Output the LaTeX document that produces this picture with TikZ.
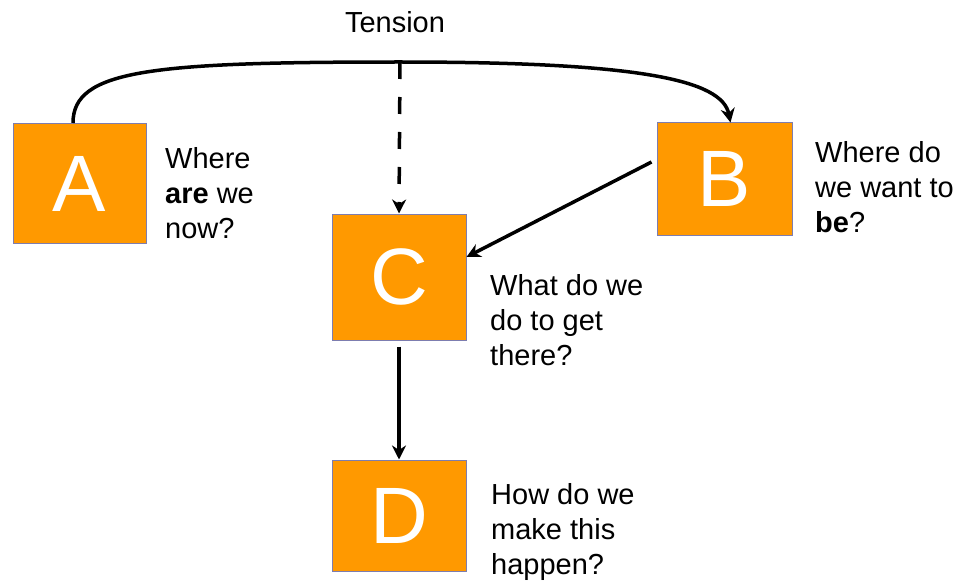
\documentclass[tikz,border=0pt]{standalone}
\usepackage{fontspec}
\setmainfont{Liberation Sans}
\usetikzlibrary{arrows.meta}
\definecolor{boxfill}{RGB}{255,153,0}
\definecolor{boxline}{RGB}{125,125,175}
\begin{document}
\begin{tikzpicture}[x=1pt,y=-1pt,
  letterbox/.style={draw=boxline,line width=1pt,fill=boxfill,inner sep=0pt,
    text=white,font=\fontsize{80}{90}\selectfont},
  lbl/.style={anchor=base west,inner sep=0pt,align=left,
    font=\fontsize{29}{35}\selectfont},
  conn/.style={line width=3.5pt,-{Stealth[length=14pt,width=14pt]}}]
\useasboundingbox (0,0) rectangle (959,583);
\node[letterbox,minimum width=133pt,minimum height=120pt] (A) at (79.5,183.5) {A};
\node[letterbox,minimum width=135pt,minimum height=112pt] (B) at (724.5,179) {B};
\node[letterbox,minimum width=134pt,minimum height=126pt] (C) at (399,277) {C};
\node[letterbox,minimum width=134pt,minimum height=111pt] (D) at (399,515.5) {D};
\node[anchor=base,inner sep=0pt,font=\fontsize{29}{35}\selectfont] (T) at (395,33) {Tension};
\node[lbl] (la) at (165,238) {Where\\\textbf{are} we\\now?};
\node[lbl] (lb) at (815,232) {Where do\\we want to\\\textbf{be}?};
\node[lbl] (lc) at (490,365) {What do we\\do to get\\there?};
\node[lbl] (ld) at (491,574) {How do we\\make this\\happen?};
\coordinate (top) at (400,62);
\draw[conn] ([xshift=-6.5pt]A.north) .. controls (73,70) and (150,62) .. (top)
  .. controls (640,62) and (722,80) .. ([xshift=6pt]B.north);
\draw[conn,dash pattern=on 17pt off 18pt] (top) -- (C.north);
\draw[conn] ([xshift=-5pt,yshift=17pt]B.west) -- ([yshift=20pt]C.east);
\draw[conn] ([yshift=-6pt]C.south) -- (D.north);
\end{tikzpicture}
\end{document}
